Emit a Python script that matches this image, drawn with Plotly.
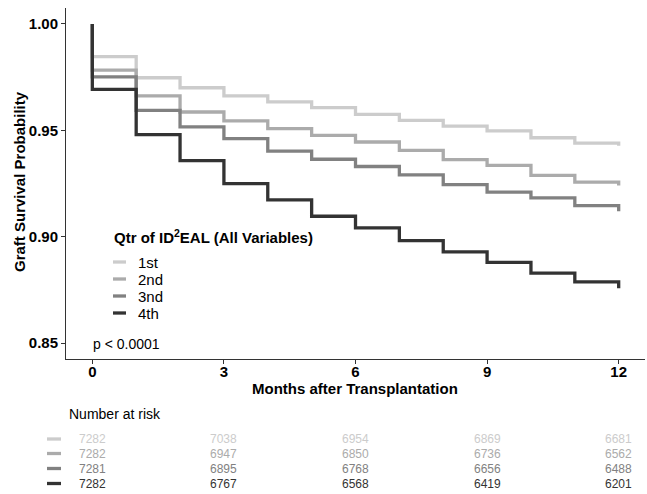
import plotly.graph_objects as go

# Kaplan-Meier graft survival by quartile of ID2EAL score
months = [0, 0, 1, 2, 3, 4, 5, 6, 7, 8, 9, 10, 11, 12]
surv_1st = [1.0, 0.9846, 0.9747, 0.9700, 0.9662, 0.9634, 0.9607, 0.9575, 0.9547, 0.9520, 0.9497, 0.9465, 0.9440, 0.9428]
surv_2nd = [1.0, 0.9783, 0.9662, 0.9586, 0.9544, 0.9508, 0.9476, 0.9445, 0.9406, 0.9362, 0.9335, 0.9288, 0.9256, 0.9241]
surv_3rd = [1.0, 0.9751, 0.9594, 0.9516, 0.9461, 0.9402, 0.9364, 0.9330, 0.9291, 0.9245, 0.9209, 0.9182, 0.9146, 0.9119]
surv_4th = [1.0, 0.9692, 0.9480, 0.9358, 0.9249, 0.9173, 0.9096, 0.9041, 0.8981, 0.8929, 0.8879, 0.8829, 0.8788, 0.8758]

group_labels = ["1st", "2nd", "3nd", "4th"]
group_colors = ["#CCCCCC", "#ABABAB", "#818181", "#333333"]

# Number at risk table
risk_months = [0, 3, 6, 9, 12]
risk_1st = [7282, 7038, 6954, 6869, 6681]
risk_2nd = [7282, 6947, 6850, 6736, 6562]
risk_3rd = [7281, 6895, 6768, 6656, 6488]
risk_4th = [7282, 6767, 6568, 6419, 6201]

x_ticks = [0, 3, 6, 9, 12]
y_ticks = [0.85, 0.90, 0.95, 1.00]

W, H = 647, 494
FONT = "Liberation Sans, Arial, sans-serif"


def px_x(p):
    return p / W


def px_y(p):
    return 1 - p / H


fig = go.Figure()
for surv, name, col in zip([surv_1st, surv_2nd, surv_3rd, surv_4th], group_labels, group_colors):
    fig.add_trace(go.Scatter(
        x=months, y=surv, mode="lines", name=name,
        line=dict(color=col, width=3.3, shape="hv"),
        showlegend=False,
    ))

annotations = []
shapes = []

# Axis titles
annotations.append(dict(xref="paper", yref="paper", x=px_x(355), y=px_y(388),
                        text="<b>Months after Transplantation</b>", showarrow=False,
                        font=dict(size=15, color="#000000", family=FONT),
                        xanchor="center", yanchor="middle"))
annotations.append(dict(xref="paper", yref="paper", x=px_x(19), y=px_y(182),
                        text="<b>Graft Survival Probability</b>", showarrow=False,
                        textangle=-90, font=dict(size=15, color="#000000", family=FONT),
                        xanchor="center", yanchor="middle"))

# Legend (inside plot)
annotations.append(dict(xref="paper", yref="paper", x=px_x(112), y=px_y(236),
                        text="<b>Qtr of ID<sup>2</sup>EAL (All Variables)</b>", showarrow=False,
                        font=dict(size=15, color="#000000", family=FONT),
                        xanchor="left", yanchor="middle"))
legend_rows = [262, 279, 296, 313]
for row_y, name, col in zip(legend_rows, group_labels, group_colors):
    shapes.append(dict(type="line", xref="paper", yref="paper",
                       x0=px_x(113), x1=px_x(126), y0=px_y(row_y), y1=px_y(row_y),
                       line=dict(color=col, width=3.3)))
    annotations.append(dict(xref="paper", yref="paper", x=px_x(136), y=px_y(row_y),
                            text=name, showarrow=False,
                            font=dict(size=15, color="#000000", family=FONT),
                            xanchor="left", yanchor="middle"))

# p-value
annotations.append(dict(xref="x", yref="paper", x=0, y=px_y(344),
                        text="p < 0.0001", showarrow=False,
                        font=dict(size=14, color="#000000", family=FONT),
                        xanchor="left", yanchor="middle", xshift=-1))

# Number at risk
annotations.append(dict(xref="paper", yref="paper", x=px_x(67), y=px_y(414),
                        text="Number at risk", showarrow=False,
                        font=dict(size=14, color="#000000", family=FONT),
                        xanchor="left", yanchor="middle"))
risk_rows = [439, 453.5, 468.5, 483.5]
for row_y, counts, col in zip(risk_rows, [risk_1st, risk_2nd, risk_3rd, risk_4th], group_colors):
    shapes.append(dict(type="line", xref="paper", yref="paper",
                       x0=px_x(47), x1=px_x(61), y0=px_y(row_y), y1=px_y(row_y),
                       line=dict(color=col, width=3.3)))
    for m, n in zip(risk_months, counts):
        annotations.append(dict(xref="x", yref="paper", x=m, y=px_y(row_y),
                                text=str(n), showarrow=False,
                                font=dict(size=12, color=col, family=FONT),
                                xanchor="center", yanchor="middle"))

fig.update_layout(
    width=W, height=H,
    margin=dict(l=0, r=0, t=0, b=0),
    paper_bgcolor="white", plot_bgcolor="white",
    font=dict(family=FONT, color="#000000"),
    xaxis=dict(domain=[px_x(66), px_x(645)], range=[-0.6, 12.6],
               tickvals=x_ticks, ticktext=[f"<b>{t}</b>" for t in x_ticks],
               showgrid=False, zeroline=False, showline=True, linecolor="#333333", linewidth=1,
               ticks="outside", ticklen=4, tickcolor="#333333", ticklabelstandoff=-5,
               tickfont=dict(size=15, color="#000000", family=FONT)),
    yaxis=dict(domain=[px_y(359), px_y(8)], range=[0.8425, 1.0075],
               tickvals=y_ticks, ticktext=[f"<b>{t:.2f}</b>" for t in y_ticks],
               showgrid=False, zeroline=False, showline=True, linecolor="#333333", linewidth=1,
               ticks="outside", ticklen=4, tickcolor="#333333",
               tickfont=dict(size=15, color="#000000", family=FONT)),
    annotations=annotations,
    shapes=shapes,
    showlegend=False,
)

fig.write_html("out.html")
